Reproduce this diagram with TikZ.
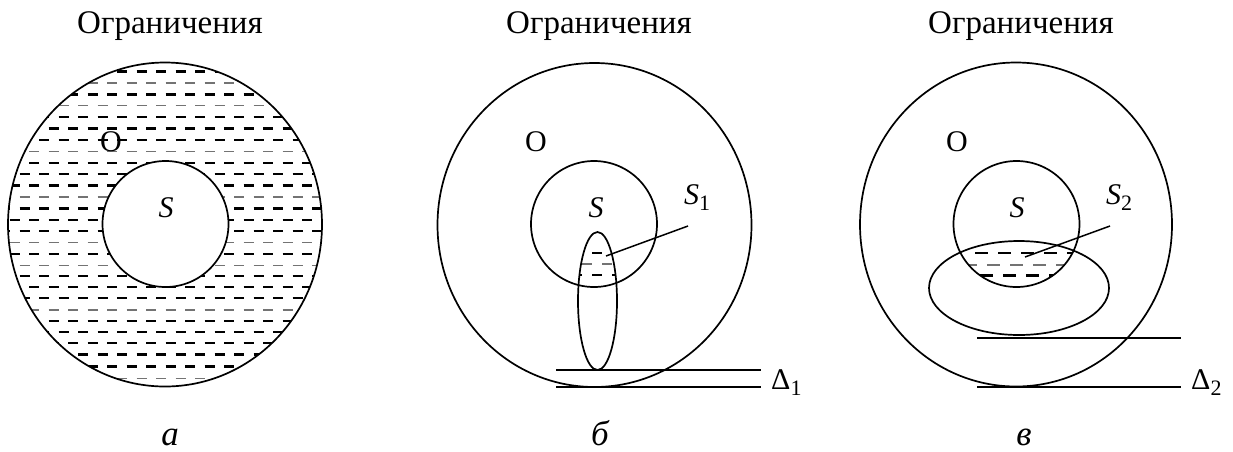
\documentclass[tikz,border=0pt]{standalone}
\usepackage{fontspec}
\setmainfont{Liberation Serif}
\begin{document}
\begin{tikzpicture}[x=1pt,y=-1pt,
  ring/.style={line width=1.7pt},
  bar/.style={line width=1.5pt},
  barthick/.style={line width=2.6pt},
  hd/.style={line width=2.3pt, dash pattern=on 10pt off 9.5pt},
  hl/.style={line width=1.1pt, black!55, dash pattern=on 10pt off 9.5pt},
  ttl/.style={font=\fontsize{33}{38}\selectfont, inner sep=0pt, anchor=base},
  lbl/.style={font=\fontsize{30}{34}\selectfont, inner sep=0pt, anchor=base},
  captxt/.style={font=\fontsize{35}{38}\selectfont\itshape, inner sep=0pt, anchor=base}]
\useasboundingbox (0,0) rectangle (1233,451);

% ---------- panel a ----------
\node[ttl] (ta) at (170,33) {Ограничения};
\coordinate (ca) at (165,224.5);
\coordinate (sa) at (165.5,224);
\begin{scope}
  \clip (ca) ellipse [x radius=157pt, y radius=162pt];
  \foreach \yy/\st/\ph in {71.6/hd/0, 83.0/hl/10, 94.4/hd/10, 105.8/hl/0, 117.2/hd/0,
     128.6/hd/10, 140.0/hd/0, 151.4/hl/10, 162.8/hd/10, 174.2/hd/0, 185.6/hd/10,
     197.0/hl/0, 208.4/hd/0, 219.8/hd/10, 231.2/hd/0, 242.6/hl/10, 254.0/hd/10,
     265.4/hl/0, 276.0/hd/0, 287.0/hd/10, 298.0/hd/0, 310.0/hl/10, 321.0/hd/10,
     332.0/hd/0, 343.0/hd/10, 354.5/hd/0, 366.5/hd/10, 378.3/hl/0}
    \draw[\st, dash phase=\ph pt] (0,\yy) -- (340,\yy);
\end{scope}
\fill[white] (sa) circle [radius=63pt];
\draw[ring] (sa) circle [radius=63pt];
\draw[ring] (ca) ellipse [x radius=157pt, y radius=162pt];
\node[lbl] (oa) at (111,151) {О};
\node[lbl] (sla) at (166,217) {\itshape S};
\node[captxt] (la) at (170,445) {а};

% ---------- panel b ----------
\node[ttl] (tb) at (599,33) {Ограничения};
\coordinate (cb) at (594.5,225);
\coordinate (sb) at (594,224);
\coordinate (eb) at (597.5,301);
\begin{scope}
  \clip (eb) ellipse [x radius=19.5pt, y radius=69pt];
  \clip (sb) circle [radius=63pt];
  \draw[hd, dash pattern=on 10pt off 10pt] (572,253) -- (630,253);
  \draw[hl, dash pattern=on 10pt off 10pt] (582,264) -- (630,264);
  \draw[hd, dash pattern=on 10pt off 10pt] (572,275) -- (630,275);
\end{scope}
\draw[ring] (cb) ellipse [x radius=157pt, y radius=162pt];
\draw[ring] (sb) circle [radius=63pt];
\draw[ring] (eb) ellipse [x radius=19.5pt, y radius=69pt];
\coordinate (b1l) at (556,370); \coordinate (b1r) at (761,370);
\coordinate (b2l) at (556,387); \coordinate (b2r) at (761,387);
\draw[bar] (b1l) -- (b1r);
\draw[barthick] (b2l) -- (b2r);
\coordinate (s1end) at (688,226);
\coordinate (s1pt) at (606,256);
\draw[bar] (s1end) -- (s1pt);
\node[lbl] (ob) at (536,151) {О};
\node[lbl] (slb) at (596,217) {\itshape S};
\node[lbl, anchor=base west] (s1) at (684,204) {\itshape S\upshape\raisebox{-0.22em}{\fontsize{22}{24}\selectfont 1}};
\node[lbl, anchor=base west] (d1) at (771,389) {Δ\raisebox{-0.22em}{\fontsize{22}{24}\selectfont 1}};
\node[captxt] (lb) at (600,445) {б};

% ---------- panel c ----------
\node[ttl] (tc) at (1021,33) {Ограничения};
\coordinate (cc) at (1016,224.5);
\coordinate (sc) at (1016.5,224);
\coordinate (ec) at (1019,288);
\begin{scope}
  \clip (ec) ellipse [x radius=90pt, y radius=47pt];
  \clip (sc) circle [radius=63pt];
  \draw[hd, dash pattern=on 13pt off 10pt] (975,253) -- (1090,253);
  \draw[hl, dash pattern=on 13pt off 10pt] (964,265) -- (1090,265);
  \draw[hd, dash pattern=on 13pt off 10pt] (980,275.5) -- (1090,275.5);
\end{scope}
\draw[ring] (cc) ellipse [x radius=156pt, y radius=162pt];
\draw[ring] (sc) circle [radius=63pt];
\draw[ring] (ec) ellipse [x radius=90pt, y radius=47pt];
\coordinate (c1l) at (977,338); \coordinate (c1r) at (1181,338);
\coordinate (c2l) at (977,387); \coordinate (c2r) at (1181,387);
\draw[bar] (c1l) -- (c1r);
\draw[barthick] (c2l) -- (c2r);
\coordinate (s2end) at (1110,226);
\coordinate (s2pt) at (1025,257);
\draw[bar] (s2end) -- (s2pt);
\node[lbl] (oc) at (957,151) {О};
\node[lbl] (slc) at (1017,217) {\itshape S};
\node[lbl, anchor=base west] (s2) at (1106,204) {\itshape S\upshape\raisebox{-0.22em}{\fontsize{22}{24}\selectfont 2}};
\node[lbl, anchor=base west] (d2) at (1191,389) {Δ\raisebox{-0.22em}{\fontsize{22}{24}\selectfont 2}};
\node[captxt] (lc) at (1024,445) {в};
\end{tikzpicture}
\end{document}
